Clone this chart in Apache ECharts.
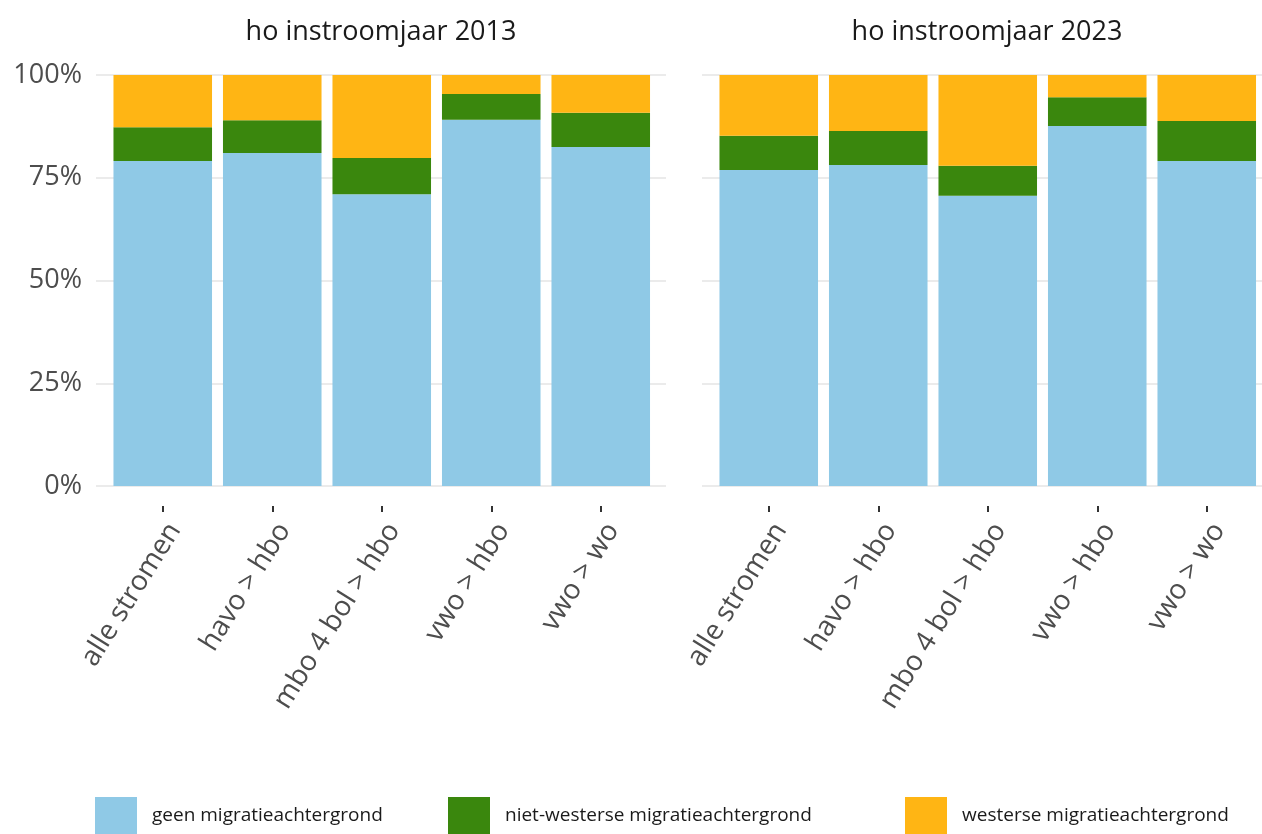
<!DOCTYPE html>
<html><head><meta charset="utf-8">
<script src="https://cdn.jsdelivr.net/npm/echarts@6/dist/echarts.min.js"></script>
<style>html,body{margin:0;padding:0;background:#fff}#c{width:1262px;height:834px}</style>
</head><body><div id="c"></div>
<script>
const categories = ['alle stromen', 'havo > hbo', 'mbo 4 bol > hbo', 'vwo > hbo', 'vwo > wo'];
const panelTitles = ['ho instroomjaar 2013', 'ho instroomjaar 2023'];
const seriesNames = ['geen migratieachtergrond', 'niet-westerse migratieachtergrond', 'westerse migratieachtergrond'];
const geen2013 = [79.1, 81.0, 71.0, 89.1, 82.5];
const nietWesters2013 = [8.2, 8.0, 8.8, 6.3, 8.3];
const westers2013 = [12.7, 11.0, 20.2, 4.6, 9.2];
const geen2023 = [76.9, 78.1, 70.6, 87.6, 79.1];
const nietWesters2023 = [8.3, 8.3, 7.3, 7.0, 9.7];
const westers2023 = [14.8, 13.6, 22.1, 5.4, 11.2];
const yTicks = [0, 25, 50, 75, 100];
const colors = ['#8fc9e6', '#3a870d', '#ffb514'];

const FONT = '"Open Sans", sans-serif';
const panels = [
  {bgLeft: 96, barLeft: 108, cx: 381, data: [geen2013, nietWesters2013, westers2013]},
  {bgLeft: 702, barLeft: 714, cx: 987, data: [geen2023, nietWesters2023, westers2023]}
];
const TOP = 75, H = 411;

const grid = [], xAxis = [], yAxis = [], series = [];
panels.forEach((p, i) => {
  // background grid (gridlines + y labels)
  grid.push({left: p.bgLeft, top: TOP, width: 570, height: H});
  xAxis.push({gridIndex: grid.length - 1, type: 'value', show: false, min: 0, max: 1});
  yAxis.push({gridIndex: grid.length - 1, type: 'value', min: 0, max: 100, interval: 25,
    axisLine: {show: false}, axisTick: {show: false},
    splitLine: {show: true, lineStyle: {color: '#ebebeb', width: 2}},
    axisLabel: {show: i === 0, formatter: v => yTicks.includes(v) ? v + '%' : '', color: '#4d4d4d',
      fontSize: 27, fontFamily: FONT, margin: 14}
  });
  // tick/label grid (shifted down by 20px)
  grid.push({left: p.barLeft, top: TOP + 20, width: 547.5, height: H});
  const li = grid.length - 1;
  xAxis.push({gridIndex: li, type: 'category', data: categories,
    axisLine: {show: false},
    axisTick: {show: true, alignWithLabel: true, length: 6, lineStyle: {color: '#333', width: 2}},
    axisLabel: {rotate: 58, color: '#4d4d4d', fontSize: 28, fontFamily: FONT, margin: 12, interval: 0,
      align: 'right', verticalAlign: 'top'}
  });
  yAxis.push({gridIndex: li, type: 'value', min: 0, max: 100, show: false, splitLine: {show: false}});
  // bar grid
  grid.push({left: p.barLeft, top: TOP, width: 547.5, height: H});
  const gi = grid.length - 1;
  xAxis.push({gridIndex: gi, type: 'category', data: categories, show: false});
  yAxis.push({gridIndex: gi, type: 'value', min: 0, max: 100, show: false, splitLine: {show: false}});
  p.data.forEach((vals, k) => {
    series.push({type: 'bar', name: seriesNames[k], xAxisIndex: gi, yAxisIndex: gi,
      stack: 'p' + i, data: vals, barWidth: '90%', itemStyle: {color: colors[k]},
      emphasis: {disabled: true}, silent: true});
  });
});

const legendLefts = [95, 448, 905];
const legend = seriesNames.map((n, k) => ({
  data: [n], left: legendLefts[k], top: 797, padding: 0, itemWidth: 42, itemHeight: 37,
  icon: 'rect', selectedMode: false,
  textStyle: {fontSize: 19, color: '#1a1a1a', fontFamily: FONT, padding: [6, 0, 0, 10]}
}));

const graphic = panels.map((p, i) => ({
  type: 'text', x: p.cx, y: 32,
  style: {text: panelTitles[i], fontSize: 27, fontFamily: FONT, fill: '#1a1a1a',
    textAlign: 'center', textVerticalAlign: 'middle'}
}));

const chart = echarts.init(document.getElementById('c'), null, {renderer: 'canvas'});
chart.setOption({animation: false, color: colors, grid, xAxis, yAxis, series, legend, graphic});
</script></body></html>
